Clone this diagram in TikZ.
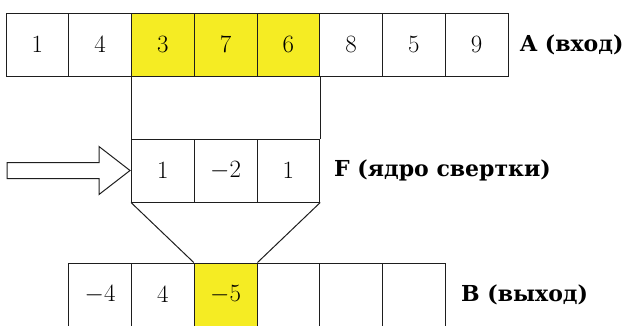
\documentclass[tikz,border=0pt]{standalone}
\usepackage{fontspec}
\newfontfamily\labfont{DejaVu Serif}
\usetikzlibrary{calc}
\definecolor{hl}{RGB}{245,236,35}
\definecolor{ln}{RGB}{30,30,30}
\tikzset{
  cell/.style={draw=ln, line width=1pt, minimum width=62.75pt, minimum height=63pt, inner sep=0pt, font=\fontsize{29}{34}\selectfont},
  hi/.style={fill=hl},
  lab/.style={anchor=west, inner sep=0pt, font=\labfont\bfseries\fontsize{22}{26}\selectfont},
  conn/.style={draw=ln, line width=1pt}
}
\begin{document}
\begin{tikzpicture}[x=1pt,y=-1pt]
\useasboundingbox (0,0) rectangle (627,325);
% row A
\foreach \v [count=\i from 0] in {1,4,3,7,6,8,5,9}{
  \node[cell] (a\i) at ({6+62.75*(\i+0.5)},44.5) {$\v$};
}
\foreach \v [count=\i from 2] in {3,7,6}{ \node[cell,hi] (ah\i) at (a\i) {$\v$}; }
\node[lab] (la) at (520,45) {A (вход)};
% row F
\node[cell] (f1) at (a2 |- 0,170.5) {$1$};
\node[cell] (f2) at (a3 |- 0,170.5) {$-2$};
\node[cell] (f3) at (a4 |- 0,170.5) {$1$};
\node[lab] (lf) at (334,170) {F (ядро свертки)};
% row B
\node[cell] (b1) at ({6+62.75*1.5},294.5) {$-4$};
\node[cell] (b2) at ({6+62.75*2.5},294.5) {$4$};
\node[cell,hi] (b3) at ({6+62.75*3.5},294.5) {$-5$};
\node[cell] (b4) at ({6+62.75*4.5},294.5) {};
\node[cell] (b5) at ({6+62.75*5.5},294.5) {};
\node[cell] (b6) at ({6+62.75*6.5},294.5) {};
\node[lab] (lb) at (461,295) {B (выход)};
% connectors
\draw[conn] (ah2.south west) -- (f1.north west);
\draw[conn] (ah4.south east) -- (f3.north east);
\draw[conn] (f1.south west) -- (b3.north west);
\draw[conn] (f3.south east) -- (b3.north east);
% arrow
\coordinate (tip) at ($(f1.west)+(-1,0)$);
\draw[conn, line join=miter] (tip) -- ++(-31,-24) -- ++(0,16) -- ++(-92,0) -- ++(0,16) -- ++(92,0) -- ++(0,16) -- cycle;
\end{tikzpicture}
\end{document}
